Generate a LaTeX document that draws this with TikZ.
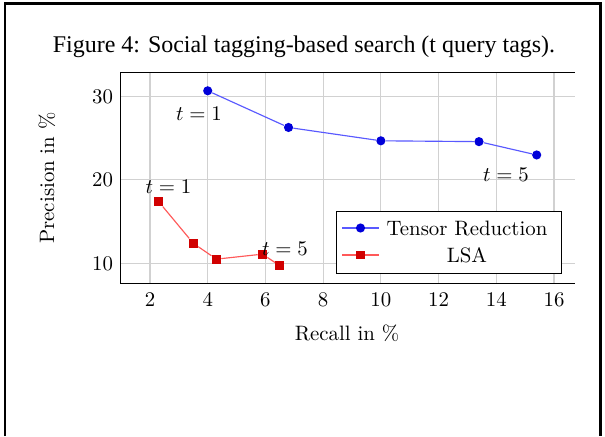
\documentclass[tikz,border=0pt]{standalone}
\usepackage{fontspec}
\newfontfamily\capfont{Liberation Serif}
\begin{document}
\begin{tikzpicture}[x=0.48pt,y=0.48pt,
  gridline/.style={black!18, line width=0.5pt},
  axisline/.style={black, line width=0.45pt},
  tdline/.style={blue!65, line width=0.55pt},
  lsaline/.style={red!65, line width=0.55pt},
  tdmark/.style={circle, fill=blue!85!black, inner sep=0pt, minimum size=4.4pt},
  lsamark/.style={rectangle, fill=red!82!black, inner sep=0pt, minimum size=4.3pt},
  lbl/.style={inner sep=0pt}]
\useasboundingbox (0,0) rectangle (605,436);
\fill[white] (0,0) rectangle (605,436);
% outer frame
\draw[line width=1pt] (5,0) -- (5,432.5) -- (600.5,432.5) -- (600.5,0);
% title
\node[lbl, font=\capfont\fontsize{11.5}{14}\selectfont] (title) at (304,389) {Figure 4: Social tagging-based search (t query tags).};
% plot area
\begin{scope}[shift={(92.29,89.37)}, x=13.851pt, y=4pt]
  \foreach \gx in {2,4,...,16} \draw[gridline] (\gx,7.64) -- (\gx,32.84);
  \foreach \gy in {10,20,30} \draw[gridline] (0.99,\gy) -- (16.72,\gy);
  \draw[axisline] (16.72,32.84) -- (0.99,32.84) -- (0.99,7.64) -- (16.72,7.64);
  \foreach \gx in {2,4,...,16} \node[lbl, anchor=north, yshift=-4.5pt] (xt\gx) at (\gx,7.64) {$\gx$};
  \foreach \gy in {10,20,30} \node[lbl, anchor=east, xshift=-3.6pt] (yt\gy) at (0.99,\gy) {$\gy$};
  % Tensor Reduction
  \node[tdmark] (td1) at (4,30.7) {};
  \node[tdmark] (td2) at (6.8,26.3) {};
  \node[tdmark] (td3) at (10,24.7) {};
  \node[tdmark] (td4) at (13.4,24.6) {};
  \node[tdmark] (td5) at (15.4,23) {};
  \draw[tdline] (td1) -- (td2) -- (td3) -- (td4) -- (td5);
  % LSA
  \node[lsamark] (ls1) at (2.3,17.4) {};
  \node[lsamark] (ls2) at (3.5,12.4) {};
  \node[lsamark] (ls3) at (4.3,10.5) {};
  \node[lsamark] (ls4) at (5.9,11.1) {};
  \node[lsamark] (ls5) at (6.5,9.7) {};
  \draw[lsaline] (ls1) -- (ls2) -- (ls3) -- (ls4) -- (ls5);
\end{scope}
% point labels
\node[lbl] (tdt1) at (199,322.7) {$t=1$};
\node[lbl] (tdt5) at (506,261.7) {$t=5$};
\node[lbl] (lst1) at (168.5,249.3) {$t=1$};
\node[lbl] (lst5) at (285,187.7) {$t=5$};
% axis labels
\node[lbl] (xlab) at (347,103) {Recall in \%};
\node[lbl, rotate=90] (ylab) at (47,258) {Precision in \%};
% legend
\node[draw=black, line width=0.45pt, fill=white, inner sep=0pt, minimum width=108pt, minimum height=29.76pt] (legend) at (448.5,194) {};
\coordinate (la1) at (342,208);
\coordinate (lb1) at (379,208);
\coordinate (la2) at (342,181);
\coordinate (lb2) at (379,181);
\draw[tdline] (la1) -- (lb1);
\draw[lsaline] (la2) -- (lb2);
\node[tdmark] (lm1) at (360.5,208) {};
\node[lsamark] (lm2) at (360.5,181) {};
\node[lbl] (lt1) at (467,208) {Tensor Reduction};
\node[lbl] (lt2) at (467,181) {LSA};
\end{tikzpicture}
\end{document}
